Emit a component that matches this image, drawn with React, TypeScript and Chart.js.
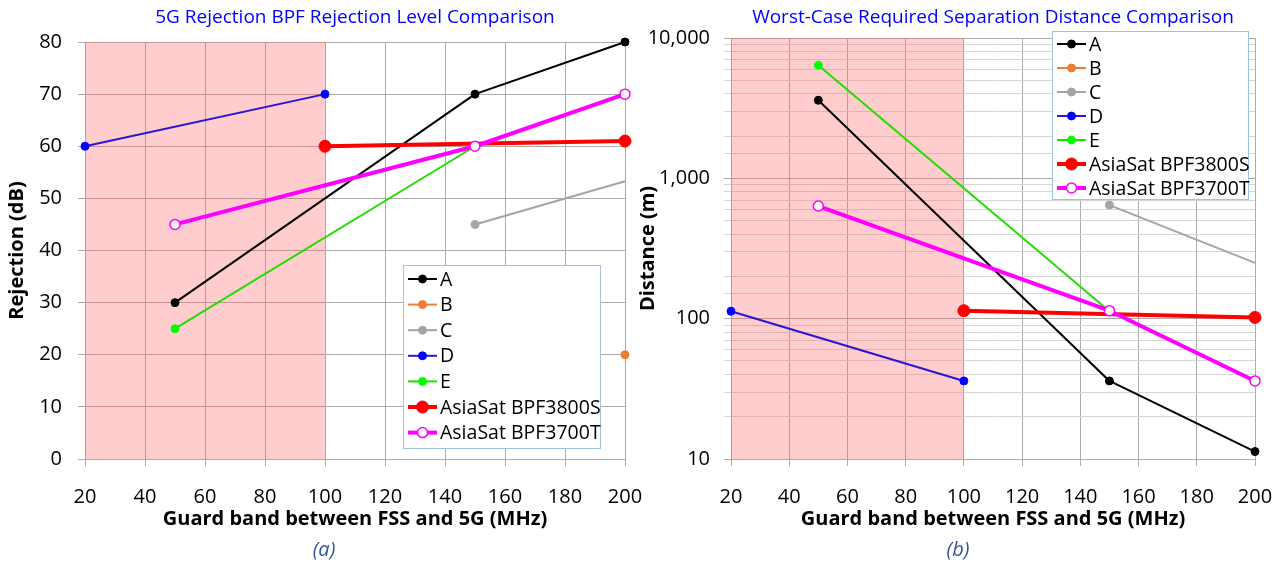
import React, { useEffect, useRef } from 'react';
import { Chart, registerables } from 'chart.js';

Chart.register(...registerables);

// ---------- Data ----------
const SERIES_NAMES = ['A', 'B', 'C', 'D', 'E', 'AsiaSat BPF3800S', 'AsiaSat BPF3700T'];

// Guard band (MHz) at which each series has a value
const A_X = [50, 150, 200];
const B_X = [200];
const C_X = [150, 200];
const D_X = [20, 100];
const E_X = [50, 150];
const S3800_X = [100, 200];
const T3700_X = [50, 150, 200];

// (a) Rejection (dB)
const A_REJ = [30, 70, 80];
const B_REJ = [20];
const C_REJ = [45, 53.3];
const D_REJ = [60, 70];
const E_REJ = [25, 60];
const S3800_REJ = [60, 61];
const T3700_REJ = [45, 60, 70];

// (b) Worst-case separation distance (m)
const A_DIST = [3600, 36, 11.3];
const B_DIST: number[] = [];
const C_DIST = [645, 250];
const D_DIST = [113, 36];
const E_DIST = [6400, 113];
const S3800_DIST = [114, 102];
const T3700_DIST = [635, 114, 36];

const X_MIN = 20;
const X_MAX = 200;
const X_STEP = 20;
const REJ_MIN = 0;
const REJ_MAX = 80;
const REJ_STEP = 10;
const DIST_MIN = 10;
const DIST_MAX = 10000;
const SHADE_FROM = 20;
const SHADE_TO = 100;

const TITLE_A = '5G Rejection BPF Rejection Level Comparison';
const TITLE_B = 'Worst-Case Required Separation Distance Comparison';
const X_TITLE = 'Guard band between FSS and 5G (MHz)';
const Y_TITLE_A = 'Rejection (dB)';
const Y_TITLE_B = 'Distance (m)';

// ---------- Styles ----------
const FONT = "'Open Sans', 'Noto Sans', sans-serif";
const GRID = '#ABABAB';
const GRID_MINOR = '#D6D6D6';

type Style = { color: string; pointColor: string; width: number; radius: number; hollow?: boolean; hideLast?: boolean };
const STYLES: Style[] = [
  { color: '#000000', pointColor: '#000000', width: 2, radius: 4 },
  { color: '#ED7D31', pointColor: '#ED7D31', width: 2, radius: 4 },
  { color: '#A5A5A5', pointColor: '#A5A5A5', width: 2, radius: 4, hideLast: true },
  { color: '#2A14D6', pointColor: '#0000FF', width: 2, radius: 4 },
  { color: '#22DD00', pointColor: '#00FF00', width: 2, radius: 4 },
  { color: '#FF0000', pointColor: '#FF0000', width: 4, radius: 6 },
  { color: '#FF00FF', pointColor: '#FFFFFF', width: 4, radius: 5, hollow: true },
];

function buildDatasets(xs: number[][], ys: number[][]) {
  return SERIES_NAMES.map((name, i) => {
    const s = STYLES[i];
    const pts = xs[i].slice(0, ys[i].length).map((x, j) => ({ x, y: ys[i][j] }));
    return {
      label: name,
      data: pts,
      borderColor: s.color,
      backgroundColor: s.pointColor,
      borderWidth: s.width,
      pointRadius: pts.map((p) => (s.hideLast && p.x === X_MAX ? 0 : s.radius)),
      pointBackgroundColor: s.pointColor,
      pointBorderColor: s.hollow ? s.color : s.pointColor,
      pointBorderWidth: s.hollow ? 1.5 : 1,
      legendRadius: s.radius,
      tension: 0,
      clip: false as const,
      order: SERIES_NAMES.length - i,
      borderJoinStyle: 'round' as const,
    };
  });
}

const ALL_X = [A_X, B_X, C_X, D_X, E_X, S3800_X, T3700_X];

const shadePlugin = {
  id: 'shade',
  beforeDatasetsDraw(chart: any) {
    const { ctx, chartArea, scales } = chart;
    const x0 = scales.x.getPixelForValue(SHADE_FROM);
    const x1 = scales.x.getPixelForValue(SHADE_TO);
    ctx.save();
    ctx.fillStyle = 'rgba(255, 100, 100, 0.32)';
    ctx.fillRect(x0, chartArea.top, x1 - x0, chartArea.bottom - chartArea.top);
    ctx.restore();
  },
};

type Box = { x: number; y: number; w: number; h: number; first: number; step: number };
function makeLegendPlugin(box: Box) {
  return {
    id: 'boxLegend',
    afterDraw(chart: any) {
      const ctx = chart.ctx;
      ctx.save();
      ctx.fillStyle = '#FFFFFF';
      ctx.fillRect(box.x, box.y, box.w, box.h);
      ctx.strokeStyle = '#9DC3E6';
      ctx.lineWidth = 1;
      ctx.strokeRect(box.x + 0.5, box.y + 0.5, box.w, box.h);
      chart.data.datasets.forEach((ds: any, i: number) => {
        const cy = box.y + box.first + i * box.step;
        const x0 = box.x + 5;
        const x1 = box.x + 34;
        ctx.strokeStyle = ds.borderColor;
        ctx.lineWidth = ds.borderWidth;
        ctx.beginPath();
        ctx.moveTo(x0, cy);
        ctx.lineTo(x1, cy);
        ctx.stroke();
        ctx.beginPath();
        ctx.arc((x0 + x1) / 2, cy, ds.legendRadius, 0, Math.PI * 2);
        ctx.fillStyle = ds.pointBackgroundColor;
        ctx.fill();
        ctx.lineWidth = ds.pointBorderWidth;
        ctx.strokeStyle = ds.pointBorderColor;
        ctx.stroke();
        ctx.fillStyle = '#000000';
        ctx.font = `19.5px ${FONT}`;
        ctx.textBaseline = 'middle';
        ctx.textAlign = 'left';
        ctx.fillText(ds.label, box.x + 37, cy + 1);
      });
      ctx.restore();
    },
  };
}

const tickFont = { family: FONT, size: 20 };
const axisTitleFont = { family: FONT, size: 20, weight: 'bold' as const };
const titleFont = { family: FONT, size: 19, weight: 'normal' as const };

function xScale() {
  return {
    type: 'linear' as const,
    min: X_MIN,
    max: X_MAX,
    ticks: { stepSize: X_STEP, color: '#000', font: tickFont, padding: 19, maxRotation: 0, autoSkip: false },
    grid: { color: GRID, tickLength: 7 },
    border: { color: GRID },
    title: { display: true, text: X_TITLE, color: '#000', font: axisTitleFont, padding: { top: 0, bottom: 31 } },
    afterFit: (s: any) => {
      s.height = 103;
      s.paddingLeft = 0;
      s.paddingRight = 0;
    },
  };
}

function isPow10(v: number) {
  const e = Math.round(Math.log10(v));
  return Math.abs(v - Math.pow(10, e)) < 1e-6;
}

function configA() {
  return {
    type: 'line' as const,
    data: { datasets: buildDatasets(ALL_X, [A_REJ, B_REJ, C_REJ, D_REJ, E_REJ, S3800_REJ, T3700_REJ]) },
    options: {
      responsive: false,
      animation: false as const,
      events: [],
      layout: { padding: { left: 0, right: 35, top: 0, bottom: 0 } },
      plugins: {
        legend: { display: false },
        tooltip: { enabled: false },
        title: {
          display: true,
          fullSize: false,
          text: TITLE_A,
          color: '#0000FF',
          font: titleFont,
          padding: { top: 6.6, bottom: 12.6 },
        },
      },
      scales: {
        x: xScale(),
        y: {
          type: 'linear' as const,
          min: REJ_MIN,
          max: REJ_MAX,
          ticks: { stepSize: REJ_STEP, color: '#000', font: tickFont, padding: 16 },
          grid: { color: GRID, tickLength: 7 },
          border: { color: GRID },
          title: { display: true, text: Y_TITLE_A, color: '#000', font: axisTitleFont, padding: { top: 5, bottom: 0 } },
          afterFit: (s: any) => {
            s.width = 85;
          },
        },
      },
    },
    plugins: [shadePlugin, makeLegendPlugin({ x: 403, y: 265, w: 197, h: 183, first: 14, step: 25.6 })],
  };
}

function configB() {
  return {
    type: 'line' as const,
    data: { datasets: buildDatasets(ALL_X, [A_DIST, B_DIST, C_DIST, D_DIST, E_DIST, S3800_DIST, T3700_DIST]) },
    options: {
      responsive: false,
      animation: false as const,
      events: [],
      layout: { padding: { left: 0, right: 25, top: 0, bottom: 0 } },
      plugins: {
        legend: { display: false },
        tooltip: { enabled: false },
        title: {
          display: true,
          fullSize: false,
          text: TITLE_B,
          color: '#0000FF',
          font: titleFont,
          padding: { top: 6.6, bottom: 8.6 },
        },
      },
      scales: {
        x: xScale(),
        y: {
          type: 'logarithmic' as const,
          min: DIST_MIN,
          max: DIST_MAX,
          ticks: {
            color: '#000',
            font: tickFont,
            padding: 14,
            autoSkip: false,
            callback: (v: any) => (isPow10(Number(v)) ? Number(v).toLocaleString('en-US') : ''),
          },
          grid: {
            color: (c: any) => (c.tick && isPow10(c.tick.value) ? GRID : GRID_MINOR),
            tickLength: 7,
          },
          border: { color: GRID },
          title: { display: true, text: Y_TITLE_B, color: '#000', font: axisTitleFont, padding: { top: 4, bottom: 0 } },
          afterFit: (s: any) => {
            s.width = 99;
          },
        },
      },
    },
    plugins: [shadePlugin, makeLegendPlugin({ x: 420, y: 31, w: 196, h: 168, first: 13, step: 24 })],
  };
}

function ChartCanvas({ make, left, width }: { make: () => any; left: number; width: number }) {
  const ref = useRef<HTMLCanvasElement | null>(null);
  useEffect(() => {
    if (!ref.current) return;
    const chart = new Chart(ref.current, make());
    return () => chart.destroy();
  }, []);
  return (
    <canvas
      ref={ref}
      width={width}
      height={562}
      style={{ position: 'absolute', left, top: 0, width, height: 562 }}
    />
  );
}

const captionStyle = (cx: number): React.CSSProperties => ({
  position: 'absolute',
  left: cx - 50,
  top: 537,
  width: 100,
  textAlign: 'center',
  fontFamily: FONT,
  fontStyle: 'italic',
  fontSize: 20,
  lineHeight: '24px',
  color: '#2F5597',
});

export default function App() {
  return (
    <div style={{ position: 'absolute', left: 0, top: 0, width: 1280, height: 562, background: '#fff', overflow: 'hidden' }}>
      <ChartCanvas make={configA} left={0} width={660} />
      <ChartCanvas make={configB} left={632} width={648} />
      <div style={captionStyle(324)}>(a)</div>
      <div style={captionStyle(958)}>(b)</div>
    </div>
  );
}
